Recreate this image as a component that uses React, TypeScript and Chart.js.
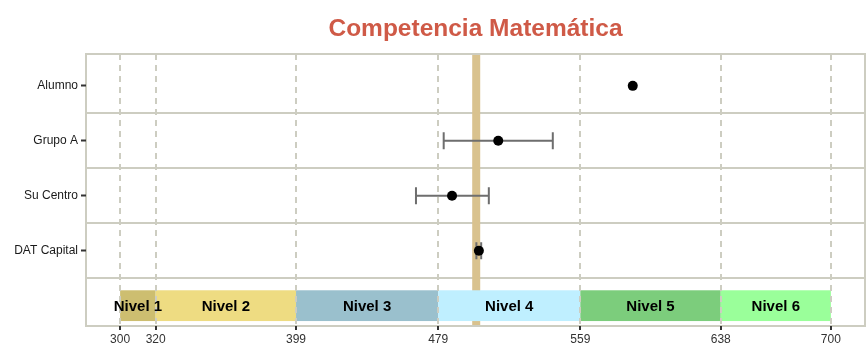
import React, { useEffect, useRef } from 'react';
import { Chart, registerables } from 'chart.js';

Chart.register(...registerables);

// ---------- data ----------
const chartTitle = 'Competencia Matemática';
const rowLabels = ['Alumno', 'Grupo A', 'Su Centro', 'DAT Capital'];
const rowMeans = [588.5, 512.8, 486.8, 501.9];
const rowLowers: (number | null)[] = [null, 482.1, 466.5, 500.5];
const rowUppers: (number | null)[] = [null, 543.5, 507.5, 503.2];
const referenceValue = 500.4;
const levelNames = ['Nivel 1', 'Nivel 2', 'Nivel 3', 'Nivel 4', 'Nivel 5', 'Nivel 6'];
const levelBreaks = [300, 320, 399, 479, 559, 638, 700];
const levelColors = ['#CDBE70', '#EEDC82', '#9AC0CD', '#BFEFFF', '#7CCD7C', '#9AFF9A'];

// ---------- styling ----------
const FONT = '"Liberation Sans", Arial, Helvetica, sans-serif';
const GRID = '#CDCDC1';
const bandRow = rowLabels.length; // row index of level bar
const bandHalf = 0.28;

const panelPlugin = {
  id: 'panelPlugin',
  beforeDraw(chart: any) {
    const { ctx, chartArea: a, scales } = chart;
    const x = scales.x;
    const y = scales.y;
    ctx.save();
    ctx.fillStyle = '#ffffff';
    ctx.fillRect(0, 0, chart.width, chart.height);
    // horizontal separators
    ctx.strokeStyle = GRID;
    ctx.lineWidth = 2;
    for (let i = 0; i < rowLabels.length; i++) {
      const py = Math.round(y.getPixelForValue(i + 0.5));
      ctx.beginPath();
      ctx.moveTo(a.left, py);
      ctx.lineTo(a.right, py);
      ctx.stroke();
    }
    // reference line
    const rx = x.getPixelForValue(referenceValue);
    ctx.fillStyle = '#D9C28E';
    ctx.fillRect(rx - 4, a.top, 8, a.bottom - a.top);
    // level bands
    const y0 = y.getPixelForValue(bandRow - bandHalf);
    const y1 = y.getPixelForValue(bandRow + bandHalf);
    for (let i = 0; i < levelNames.length; i++) {
      const x0 = x.getPixelForValue(levelBreaks[i]);
      const x1 = x.getPixelForValue(levelBreaks[i + 1]);
      ctx.fillStyle = levelColors[i];
      ctx.fillRect(x0, y0, x1 - x0, y1 - y0);
    }
    // panel border
    ctx.strokeStyle = GRID;
    ctx.lineWidth = 2;
    ctx.strokeRect(a.left, a.top, a.right - a.left, a.bottom - a.top);
    ctx.restore();
  },
  beforeDatasetsDraw(chart: any) {
    const { ctx, scales } = chart;
    const x = scales.x;
    const y = scales.y;
    ctx.save();
    ctx.strokeStyle = '#6E6E6E';
    ctx.lineWidth = 2;
    for (let i = 0; i < rowLabels.length; i++) {
      const lo = rowLowers[i];
      const hi = rowUppers[i];
      if (lo == null || hi == null) continue;
      const py = y.getPixelForValue(i);
      const px0 = x.getPixelForValue(lo);
      const px1 = x.getPixelForValue(hi);
      ctx.beginPath();
      ctx.moveTo(px0, py);
      ctx.lineTo(px1, py);
      ctx.moveTo(px0, py - 8.5);
      ctx.lineTo(px0, py + 8.5);
      ctx.moveTo(px1, py - 8.5);
      ctx.lineTo(px1, py + 8.5);
      ctx.stroke();
    }
    ctx.restore();
  },
  afterDraw(chart: any) {
    const { ctx, chartArea: a, scales } = chart;
    const x = scales.x;
    const y = scales.y;
    ctx.save();
    // level labels
    ctx.fillStyle = '#000000';
    ctx.font = `bold 15px ${FONT}`;
    ctx.textAlign = 'center';
    ctx.textBaseline = 'middle';
    const py = y.getPixelForValue(bandRow);
    for (let i = 0; i < levelNames.length; i++) {
      const cx = (x.getPixelForValue(levelBreaks[i]) + x.getPixelForValue(levelBreaks[i + 1])) / 2;
      ctx.fillText(levelNames[i], cx, py + 1);
    }
    // title
    ctx.fillStyle = '#CF5A47';
    ctx.font = `bold 24.5px ${FONT}`;
    ctx.fillText(chartTitle, (a.left + a.right) / 2, 29);
    ctx.restore();
  },
};

export default function App() {
  const ref = useRef<HTMLCanvasElement | null>(null);
  useEffect(() => {
    if (!ref.current) return;
    Chart.defaults.font.family = FONT;
    const chart = new Chart(ref.current, {
      type: 'scatter',
      data: {
        datasets: [
          {
            data: rowMeans.map((m, i) => ({ x: m, y: i })),
            backgroundColor: '#000000',
            borderWidth: 0,
            pointRadius: 5,
            pointHoverRadius: 5,
          },
        ],
      },
      options: {
        responsive: false,
        animation: false,
        layout: { autoPadding: false, padding: { top: 54, right: 2, left: 0, bottom: 0 } },
        plugins: { legend: { display: false }, tooltip: { enabled: false }, title: { display: false } },
        scales: {
          x: {
            type: 'linear',
            min: 280.8,
            max: 719.2,
            afterBuildTicks: (axis: any) => {
              axis.ticks = levelBreaks.map((v) => ({ value: v }));
            },
            afterFit: (axis: any) => {
              axis.height = 30;
              axis.paddingLeft = 0;
              axis.paddingRight = 0;
            },
            ticks: {
              autoSkip: false,
              maxRotation: 0,
              padding: 2,
              color: '#333333',
              font: { size: 12, family: FONT },
              callback: (v: any) => String(v),
            },
            grid: {
              color: GRID,
              lineWidth: 2,
              drawTicks: true,
              tickLength: 4,
              tickColor: '#333333',
              tickWidth: 2,
            },
            border: { display: false, dash: [6, 5] },
          },
          y: {
            type: 'linear',
            reverse: true,
            min: -0.58,
            max: 4.37,
            afterBuildTicks: (axis: any) => {
              axis.ticks = rowLabels.map((_, i) => ({ value: i }));
            },
            afterFit: (axis: any) => {
              axis.width = 86;
              axis.paddingTop = 0;
              axis.paddingBottom = 0;
            },
            ticks: {
              autoSkip: false,
              padding: 3,
              color: '#1a1a1a',
              font: { size: 12, family: FONT },
              callback: (v: any) => rowLabels[v as number] ?? '',
            },
            grid: {
              drawOnChartArea: false,
              drawTicks: true,
              tickLength: 5,
              tickColor: '#333333',
              tickWidth: 2,
            },
            border: { display: false },
          },
        },
      },
      plugins: [panelPlugin],
    } as any);
    return () => chart.destroy();
  }, []);
  return (
    <div style={{ position: 'fixed', left: 0, top: 0, width: 867, height: 356, background: '#fff' }}>
      <canvas ref={ref} width={867} height={356} style={{ display: 'block' }} />
    </div>
  );
}
